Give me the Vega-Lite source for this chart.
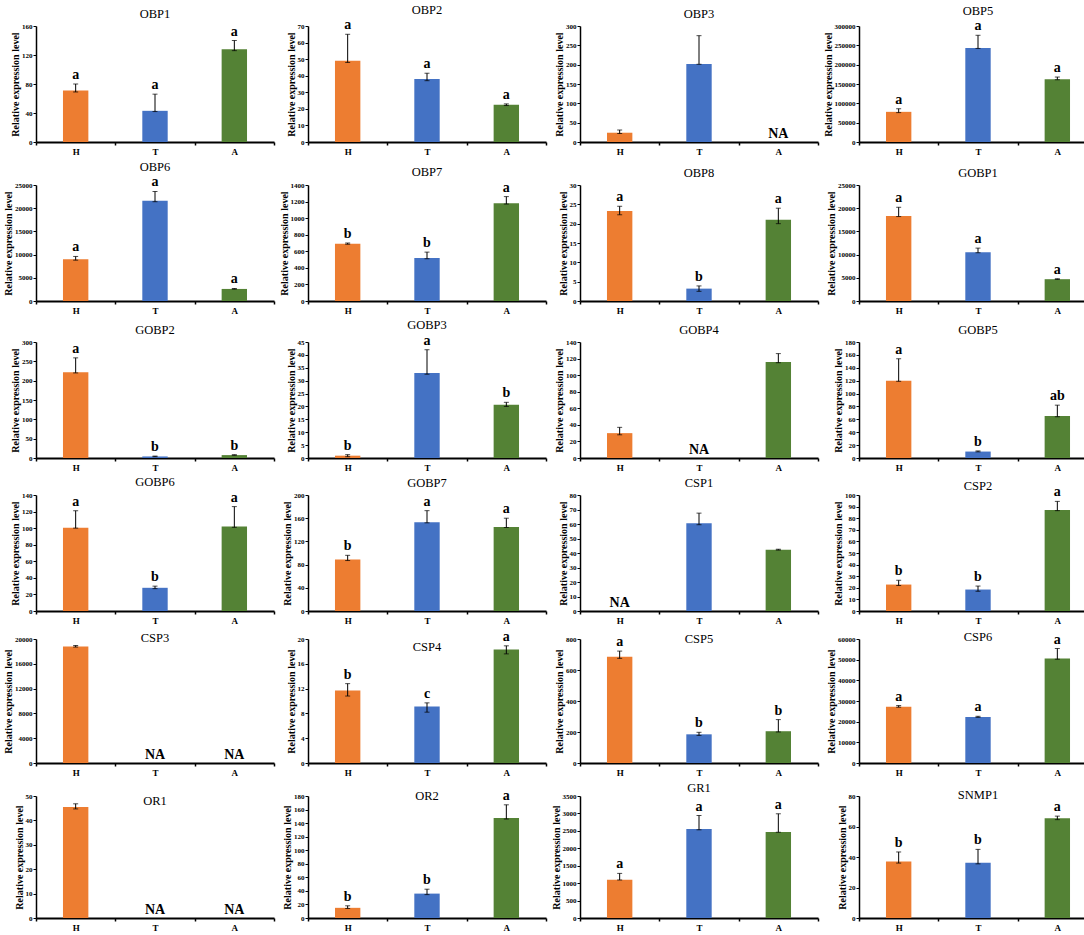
{
  "$schema": "https://vega.github.io/schema/vega-lite/v6.json",
  "description": "Relative expression levels of olfactory genes in H, T and A tissues",
  "background": "white",
  "padding": {"left": 3, "top": 3, "right": 3, "bottom": 2},
  "datasets": {
    "expr": [
      {"gene": "OBP1", "group": "H", "mean": 71, "lo": 69, "hi": 80, "sig": "a"},
      {"gene": "OBP1", "group": "T", "mean": 43, "lo": 42, "hi": 66, "sig": "a"},
      {"gene": "OBP1", "group": "A", "mean": 128, "lo": 126, "hi": 140, "sig": "a"},
      {"gene": "OBP2", "group": "H", "mean": 49, "lo": 48, "hi": 65, "sig": "a"},
      {"gene": "OBP2", "group": "T", "mean": 38, "lo": 37, "hi": 41.5, "sig": "a"},
      {"gene": "OBP2", "group": "A", "mean": 22.5, "lo": 22, "hi": 23, "sig": "a"},
      {"gene": "OBP3", "group": "H", "mean": 24, "lo": 22, "hi": 31, "sig": null},
      {"gene": "OBP3", "group": "T", "mean": 202, "lo": 201, "hi": 275, "sig": null},
      {"gene": "OBP3", "group": "A", "mean": null, "lo": null, "hi": null, "sig": null},
      {"gene": "OBP5", "group": "H", "mean": 78000, "lo": 76000, "hi": 86000, "sig": "a"},
      {"gene": "OBP5", "group": "T", "mean": 243000, "lo": 242000, "hi": 276000, "sig": "a"},
      {"gene": "OBP5", "group": "A", "mean": 162000, "lo": 161000, "hi": 168000, "sig": "a"},
      {"gene": "OBP6", "group": "H", "mean": 9000, "lo": 8800, "hi": 9600, "sig": "a"},
      {"gene": "OBP6", "group": "T", "mean": 21600, "lo": 21400, "hi": 23600, "sig": "a"},
      {"gene": "OBP6", "group": "A", "mean": 2600, "lo": 2550, "hi": 2700, "sig": "a"},
      {"gene": "OBP7", "group": "H", "mean": 690, "lo": 685, "hi": 700, "sig": "b"},
      {"gene": "OBP7", "group": "T", "mean": 520, "lo": 510, "hi": 590, "sig": "b"},
      {"gene": "OBP7", "group": "A", "mean": 1180, "lo": 1170, "hi": 1260, "sig": "a"},
      {"gene": "OBP8", "group": "H", "mean": 23.3, "lo": 22.3, "hi": 24.5, "sig": "a"},
      {"gene": "OBP8", "group": "T", "mean": 3.2, "lo": 2.5, "hi": 3.9, "sig": "b"},
      {"gene": "OBP8", "group": "A", "mean": 21, "lo": 20, "hi": 24, "sig": "a"},
      {"gene": "GOBP1", "group": "H", "mean": 18300, "lo": 18200, "hi": 20200, "sig": "a"},
      {"gene": "GOBP1", "group": "T", "mean": 10500, "lo": 10400, "hi": 11400, "sig": "a"},
      {"gene": "GOBP1", "group": "A", "mean": 4700, "lo": 4650, "hi": 4800, "sig": "a"},
      {"gene": "GOBP2", "group": "H", "mean": 222, "lo": 220, "hi": 259, "sig": "a"},
      {"gene": "GOBP2", "group": "T", "mean": 4, "lo": 3.5, "hi": 5, "sig": "b"},
      {"gene": "GOBP2", "group": "A", "mean": 7.5, "lo": 7, "hi": 8.5, "sig": "b"},
      {"gene": "GOBP3", "group": "H", "mean": 0.9, "lo": 0.5, "hi": 1.3, "sig": "b"},
      {"gene": "GOBP3", "group": "T", "mean": 33, "lo": 32.5, "hi": 42, "sig": "a"},
      {"gene": "GOBP3", "group": "A", "mean": 20.7, "lo": 20, "hi": 21.6, "sig": "b"},
      {"gene": "GOBP4", "group": "H", "mean": 30, "lo": 28, "hi": 37, "sig": null},
      {"gene": "GOBP4", "group": "T", "mean": null, "lo": null, "hi": null, "sig": null},
      {"gene": "GOBP4", "group": "A", "mean": 116, "lo": 115, "hi": 126, "sig": null},
      {"gene": "GOBP5", "group": "H", "mean": 120, "lo": 119, "hi": 154, "sig": "a"},
      {"gene": "GOBP5", "group": "T", "mean": 10, "lo": 9.5, "hi": 11, "sig": "b"},
      {"gene": "GOBP5", "group": "A", "mean": 65, "lo": 64, "hi": 82, "sig": "ab"},
      {"gene": "GOBP6", "group": "H", "mean": 100.5, "lo": 100, "hi": 121, "sig": "a"},
      {"gene": "GOBP6", "group": "T", "mean": 28, "lo": 27, "hi": 30, "sig": "b"},
      {"gene": "GOBP6", "group": "A", "mean": 102, "lo": 101, "hi": 126, "sig": "a"},
      {"gene": "GOBP7", "group": "H", "mean": 89, "lo": 87, "hi": 96, "sig": "b"},
      {"gene": "GOBP7", "group": "T", "mean": 153, "lo": 152, "hi": 173, "sig": "a"},
      {"gene": "GOBP7", "group": "A", "mean": 145, "lo": 144, "hi": 160, "sig": "a"},
      {"gene": "CSP1", "group": "H", "mean": null, "lo": null, "hi": null, "sig": null},
      {"gene": "CSP1", "group": "T", "mean": 60.5, "lo": 59.5, "hi": 67.5, "sig": null},
      {"gene": "CSP1", "group": "A", "mean": 42.3, "lo": 42, "hi": 42.6, "sig": null},
      {"gene": "CSP2", "group": "H", "mean": 22.8, "lo": 22, "hi": 26.5, "sig": "b"},
      {"gene": "CSP2", "group": "T", "mean": 18.5, "lo": 17, "hi": 21.5, "sig": "b"},
      {"gene": "CSP2", "group": "A", "mean": 87, "lo": 86.5, "hi": 94.5, "sig": "a"},
      {"gene": "CSP3", "group": "H", "mean": 18800, "lo": 18700, "hi": 18950, "sig": null},
      {"gene": "CSP3", "group": "T", "mean": null, "lo": null, "hi": null, "sig": null},
      {"gene": "CSP3", "group": "A", "mean": null, "lo": null, "hi": null, "sig": null},
      {"gene": "CSP4", "group": "H", "mean": 11.7, "lo": 10.8, "hi": 12.8, "sig": "b"},
      {"gene": "CSP4", "group": "T", "mean": 9.1, "lo": 8.2, "hi": 9.7, "sig": "c"},
      {"gene": "CSP4", "group": "A", "mean": 18.3, "lo": 17.6, "hi": 18.9, "sig": "a"},
      {"gene": "CSP5", "group": "H", "mean": 685, "lo": 675, "hi": 722, "sig": "a"},
      {"gene": "CSP5", "group": "T", "mean": 185, "lo": 178, "hi": 198, "sig": "b"},
      {"gene": "CSP5", "group": "A", "mean": 205, "lo": 200, "hi": 280, "sig": "b"},
      {"gene": "CSP6", "group": "H", "mean": 27200, "lo": 27000, "hi": 27800, "sig": "a"},
      {"gene": "CSP6", "group": "T", "mean": 22300, "lo": 22100, "hi": 22600, "sig": "a"},
      {"gene": "CSP6", "group": "A", "mean": 50600, "lo": 50200, "hi": 55400, "sig": "a"},
      {"gene": "OR1", "group": "H", "mean": 45.5, "lo": 44.7, "hi": 46.8, "sig": null},
      {"gene": "OR1", "group": "T", "mean": null, "lo": null, "hi": null, "sig": null},
      {"gene": "OR1", "group": "A", "mean": null, "lo": null, "hi": null, "sig": null},
      {"gene": "OR2", "group": "H", "mean": 15, "lo": 14, "hi": 18, "sig": "b"},
      {"gene": "OR2", "group": "T", "mean": 36, "lo": 34.5, "hi": 42.5, "sig": "b"},
      {"gene": "OR2", "group": "A", "mean": 147.5, "lo": 146, "hi": 167, "sig": "a"},
      {"gene": "GR1", "group": "H", "mean": 1100, "lo": 1090, "hi": 1280, "sig": "a"},
      {"gene": "GR1", "group": "T", "mean": 2550, "lo": 2530, "hi": 2940, "sig": "a"},
      {"gene": "GR1", "group": "A", "mean": 2470, "lo": 2460, "hi": 2990, "sig": "a"},
      {"gene": "SNMP1", "group": "H", "mean": 37, "lo": 36, "hi": 43.3, "sig": "b"},
      {"gene": "SNMP1", "group": "T", "mean": 36.3, "lo": 35.5, "hi": 45, "sig": "b"},
      {"gene": "SNMP1", "group": "A", "mean": 65.4, "lo": 64.5, "hi": 66.8, "sig": "a"}
    ]
  },
  "data": {"name": "expr"},
  "columns": 4,
  "spacing": {"row": 4, "column": 4},
  "concat": [
    {"title": {"text": "OBP1"}, "transform": [{"filter": "datum.gene === 'OBP1'"}],
     "encoding": {"x": {"field": "group", "type": "nominal", "sort": ["H", "T", "A"], "title": null, "scale": {"paddingInner": 0, "paddingOuter": 0}}},
     "layer": [
      {"mark": {"type": "bar", "width": {"band": 0.32}}, "encoding": {"y": {"field": "mean", "type": "quantitative", "title": "Relative expression level", "scale": {"domain": [0, 160], "nice": false}, "axis": {"values": [0, 40, 80, 120, 160], "tickCount": 20, "format": "d"}}, "color": {"field": "group", "legend": null}}},
      {"transform": [{"filter": "datum.lo !== null"}], "mark": {"type": "errorbar", "ticks": true, "color": "black", "size": 5, "thickness": 1}, "encoding": {"y": {"field": "lo", "type": "quantitative", "title": "Relative expression level"}, "y2": {"field": "hi"}}},
      {"transform": [{"filter": "datum.sig !== null"}], "mark": "text", "encoding": {"y": {"field": "hi", "type": "quantitative", "title": "Relative expression level"}, "text": {"field": "sig"}}},
      {"transform": [{"filter": "datum.mean === null"}], "mark": {"type": "text", "style": "na"}, "encoding": {"y": {"datum": 0, "type": "quantitative", "title": "Relative expression level"}, "text": {"value": "NA"}}}
     ]},
    {"title": {"text": "OBP2"}, "transform": [{"filter": "datum.gene === 'OBP2'"}],
     "encoding": {"x": {"field": "group", "type": "nominal", "sort": ["H", "T", "A"], "title": null, "scale": {"paddingInner": 0, "paddingOuter": 0}}},
     "layer": [
      {"mark": {"type": "bar", "width": {"band": 0.32}}, "encoding": {"y": {"field": "mean", "type": "quantitative", "title": "Relative expression level", "scale": {"domain": [0, 70], "nice": false}, "axis": {"values": [0, 10, 20, 30, 40, 50, 60, 70], "tickCount": 20, "format": "d"}}, "color": {"field": "group", "legend": null}}},
      {"transform": [{"filter": "datum.lo !== null"}], "mark": {"type": "errorbar", "ticks": true, "color": "black", "size": 5, "thickness": 1}, "encoding": {"y": {"field": "lo", "type": "quantitative", "title": "Relative expression level"}, "y2": {"field": "hi"}}},
      {"transform": [{"filter": "datum.sig !== null"}], "mark": "text", "encoding": {"y": {"field": "hi", "type": "quantitative", "title": "Relative expression level"}, "text": {"field": "sig"}}},
      {"transform": [{"filter": "datum.mean === null"}], "mark": {"type": "text", "style": "na"}, "encoding": {"y": {"datum": 0, "type": "quantitative", "title": "Relative expression level"}, "text": {"value": "NA"}}}
     ]},
    {"title": {"text": "OBP3"}, "transform": [{"filter": "datum.gene === 'OBP3'"}],
     "encoding": {"x": {"field": "group", "type": "nominal", "sort": ["H", "T", "A"], "title": null, "scale": {"paddingInner": 0, "paddingOuter": 0}}},
     "layer": [
      {"mark": {"type": "bar", "width": {"band": 0.32}}, "encoding": {"y": {"field": "mean", "type": "quantitative", "title": "Relative expression level", "scale": {"domain": [0, 300], "nice": false}, "axis": {"values": [0, 50, 100, 150, 200, 250, 300], "tickCount": 20, "format": "d"}}, "color": {"field": "group", "legend": null}}},
      {"transform": [{"filter": "datum.lo !== null"}], "mark": {"type": "errorbar", "ticks": true, "color": "black", "size": 5, "thickness": 1}, "encoding": {"y": {"field": "lo", "type": "quantitative", "title": "Relative expression level"}, "y2": {"field": "hi"}}},
      {"transform": [{"filter": "datum.sig !== null"}], "mark": "text", "encoding": {"y": {"field": "hi", "type": "quantitative", "title": "Relative expression level"}, "text": {"field": "sig"}}},
      {"transform": [{"filter": "datum.mean === null"}], "mark": {"type": "text", "style": "na"}, "encoding": {"y": {"datum": 0, "type": "quantitative", "title": "Relative expression level"}, "text": {"value": "NA"}}}
     ]},
    {"title": {"text": "OBP5"}, "transform": [{"filter": "datum.gene === 'OBP5'"}],
     "encoding": {"x": {"field": "group", "type": "nominal", "sort": ["H", "T", "A"], "title": null, "scale": {"paddingInner": 0, "paddingOuter": 0}}},
     "layer": [
      {"mark": {"type": "bar", "width": {"band": 0.32}}, "encoding": {"y": {"field": "mean", "type": "quantitative", "title": "Relative expression level", "scale": {"domain": [0, 300000], "nice": false}, "axis": {"values": [0, 50000, 100000, 150000, 200000, 250000, 300000], "tickCount": 20, "format": "d"}}, "color": {"field": "group", "legend": null}}},
      {"transform": [{"filter": "datum.lo !== null"}], "mark": {"type": "errorbar", "ticks": true, "color": "black", "size": 5, "thickness": 1}, "encoding": {"y": {"field": "lo", "type": "quantitative", "title": "Relative expression level"}, "y2": {"field": "hi"}}},
      {"transform": [{"filter": "datum.sig !== null"}], "mark": "text", "encoding": {"y": {"field": "hi", "type": "quantitative", "title": "Relative expression level"}, "text": {"field": "sig"}}},
      {"transform": [{"filter": "datum.mean === null"}], "mark": {"type": "text", "style": "na"}, "encoding": {"y": {"datum": 0, "type": "quantitative", "title": "Relative expression level"}, "text": {"value": "NA"}}}
     ]},
    {"title": {"text": "OBP6"}, "transform": [{"filter": "datum.gene === 'OBP6'"}],
     "encoding": {"x": {"field": "group", "type": "nominal", "sort": ["H", "T", "A"], "title": null, "scale": {"paddingInner": 0, "paddingOuter": 0}}},
     "layer": [
      {"mark": {"type": "bar", "width": {"band": 0.32}}, "encoding": {"y": {"field": "mean", "type": "quantitative", "title": "Relative expression level", "scale": {"domain": [0, 25000], "nice": false}, "axis": {"values": [0, 5000, 10000, 15000, 20000, 25000], "tickCount": 20, "format": "d"}}, "color": {"field": "group", "legend": null}}},
      {"transform": [{"filter": "datum.lo !== null"}], "mark": {"type": "errorbar", "ticks": true, "color": "black", "size": 5, "thickness": 1}, "encoding": {"y": {"field": "lo", "type": "quantitative", "title": "Relative expression level"}, "y2": {"field": "hi"}}},
      {"transform": [{"filter": "datum.sig !== null"}], "mark": "text", "encoding": {"y": {"field": "hi", "type": "quantitative", "title": "Relative expression level"}, "text": {"field": "sig"}}},
      {"transform": [{"filter": "datum.mean === null"}], "mark": {"type": "text", "style": "na"}, "encoding": {"y": {"datum": 0, "type": "quantitative", "title": "Relative expression level"}, "text": {"value": "NA"}}}
     ]},
    {"title": {"text": "OBP7"}, "transform": [{"filter": "datum.gene === 'OBP7'"}],
     "encoding": {"x": {"field": "group", "type": "nominal", "sort": ["H", "T", "A"], "title": null, "scale": {"paddingInner": 0, "paddingOuter": 0}}},
     "layer": [
      {"mark": {"type": "bar", "width": {"band": 0.32}}, "encoding": {"y": {"field": "mean", "type": "quantitative", "title": "Relative expression level", "scale": {"domain": [0, 1400], "nice": false}, "axis": {"values": [0, 200, 400, 600, 800, 1000, 1200, 1400], "tickCount": 20, "format": "d"}}, "color": {"field": "group", "legend": null}}},
      {"transform": [{"filter": "datum.lo !== null"}], "mark": {"type": "errorbar", "ticks": true, "color": "black", "size": 5, "thickness": 1}, "encoding": {"y": {"field": "lo", "type": "quantitative", "title": "Relative expression level"}, "y2": {"field": "hi"}}},
      {"transform": [{"filter": "datum.sig !== null"}], "mark": "text", "encoding": {"y": {"field": "hi", "type": "quantitative", "title": "Relative expression level"}, "text": {"field": "sig"}}},
      {"transform": [{"filter": "datum.mean === null"}], "mark": {"type": "text", "style": "na"}, "encoding": {"y": {"datum": 0, "type": "quantitative", "title": "Relative expression level"}, "text": {"value": "NA"}}}
     ]},
    {"title": {"text": "OBP8"}, "transform": [{"filter": "datum.gene === 'OBP8'"}],
     "encoding": {"x": {"field": "group", "type": "nominal", "sort": ["H", "T", "A"], "title": null, "scale": {"paddingInner": 0, "paddingOuter": 0}}},
     "layer": [
      {"mark": {"type": "bar", "width": {"band": 0.32}}, "encoding": {"y": {"field": "mean", "type": "quantitative", "title": "Relative expression level", "scale": {"domain": [0, 30], "nice": false}, "axis": {"values": [0, 5, 10, 15, 20, 25, 30], "tickCount": 20, "format": "d"}}, "color": {"field": "group", "legend": null}}},
      {"transform": [{"filter": "datum.lo !== null"}], "mark": {"type": "errorbar", "ticks": true, "color": "black", "size": 5, "thickness": 1}, "encoding": {"y": {"field": "lo", "type": "quantitative", "title": "Relative expression level"}, "y2": {"field": "hi"}}},
      {"transform": [{"filter": "datum.sig !== null"}], "mark": "text", "encoding": {"y": {"field": "hi", "type": "quantitative", "title": "Relative expression level"}, "text": {"field": "sig"}}},
      {"transform": [{"filter": "datum.mean === null"}], "mark": {"type": "text", "style": "na"}, "encoding": {"y": {"datum": 0, "type": "quantitative", "title": "Relative expression level"}, "text": {"value": "NA"}}}
     ]},
    {"title": {"text": "GOBP1"}, "transform": [{"filter": "datum.gene === 'GOBP1'"}],
     "encoding": {"x": {"field": "group", "type": "nominal", "sort": ["H", "T", "A"], "title": null, "scale": {"paddingInner": 0, "paddingOuter": 0}}},
     "layer": [
      {"mark": {"type": "bar", "width": {"band": 0.32}}, "encoding": {"y": {"field": "mean", "type": "quantitative", "title": "Relative expression level", "scale": {"domain": [0, 25000], "nice": false}, "axis": {"values": [0, 5000, 10000, 15000, 20000, 25000], "tickCount": 20, "format": "d"}}, "color": {"field": "group", "legend": null}}},
      {"transform": [{"filter": "datum.lo !== null"}], "mark": {"type": "errorbar", "ticks": true, "color": "black", "size": 5, "thickness": 1}, "encoding": {"y": {"field": "lo", "type": "quantitative", "title": "Relative expression level"}, "y2": {"field": "hi"}}},
      {"transform": [{"filter": "datum.sig !== null"}], "mark": "text", "encoding": {"y": {"field": "hi", "type": "quantitative", "title": "Relative expression level"}, "text": {"field": "sig"}}},
      {"transform": [{"filter": "datum.mean === null"}], "mark": {"type": "text", "style": "na"}, "encoding": {"y": {"datum": 0, "type": "quantitative", "title": "Relative expression level"}, "text": {"value": "NA"}}}
     ]},
    {"title": {"text": "GOBP2"}, "transform": [{"filter": "datum.gene === 'GOBP2'"}],
     "encoding": {"x": {"field": "group", "type": "nominal", "sort": ["H", "T", "A"], "title": null, "scale": {"paddingInner": 0, "paddingOuter": 0}}},
     "layer": [
      {"mark": {"type": "bar", "width": {"band": 0.32}}, "encoding": {"y": {"field": "mean", "type": "quantitative", "title": "Relative expression level", "scale": {"domain": [0, 300], "nice": false}, "axis": {"values": [0, 50, 100, 150, 200, 250, 300], "tickCount": 20, "format": "d"}}, "color": {"field": "group", "legend": null}}},
      {"transform": [{"filter": "datum.lo !== null"}], "mark": {"type": "errorbar", "ticks": true, "color": "black", "size": 5, "thickness": 1}, "encoding": {"y": {"field": "lo", "type": "quantitative", "title": "Relative expression level"}, "y2": {"field": "hi"}}},
      {"transform": [{"filter": "datum.sig !== null"}], "mark": "text", "encoding": {"y": {"field": "hi", "type": "quantitative", "title": "Relative expression level"}, "text": {"field": "sig"}}},
      {"transform": [{"filter": "datum.mean === null"}], "mark": {"type": "text", "style": "na"}, "encoding": {"y": {"datum": 0, "type": "quantitative", "title": "Relative expression level"}, "text": {"value": "NA"}}}
     ]},
    {"title": {"text": "GOBP3"}, "transform": [{"filter": "datum.gene === 'GOBP3'"}],
     "encoding": {"x": {"field": "group", "type": "nominal", "sort": ["H", "T", "A"], "title": null, "scale": {"paddingInner": 0, "paddingOuter": 0}}},
     "layer": [
      {"mark": {"type": "bar", "width": {"band": 0.32}}, "encoding": {"y": {"field": "mean", "type": "quantitative", "title": "Relative expression level", "scale": {"domain": [0, 45], "nice": false}, "axis": {"values": [0, 5, 10, 15, 20, 25, 30, 35, 40, 45], "tickCount": 20, "format": "d"}}, "color": {"field": "group", "legend": null}}},
      {"transform": [{"filter": "datum.lo !== null"}], "mark": {"type": "errorbar", "ticks": true, "color": "black", "size": 5, "thickness": 1}, "encoding": {"y": {"field": "lo", "type": "quantitative", "title": "Relative expression level"}, "y2": {"field": "hi"}}},
      {"transform": [{"filter": "datum.sig !== null"}], "mark": "text", "encoding": {"y": {"field": "hi", "type": "quantitative", "title": "Relative expression level"}, "text": {"field": "sig"}}},
      {"transform": [{"filter": "datum.mean === null"}], "mark": {"type": "text", "style": "na"}, "encoding": {"y": {"datum": 0, "type": "quantitative", "title": "Relative expression level"}, "text": {"value": "NA"}}}
     ]},
    {"title": {"text": "GOBP4"}, "transform": [{"filter": "datum.gene === 'GOBP4'"}],
     "encoding": {"x": {"field": "group", "type": "nominal", "sort": ["H", "T", "A"], "title": null, "scale": {"paddingInner": 0, "paddingOuter": 0}}},
     "layer": [
      {"mark": {"type": "bar", "width": {"band": 0.32}}, "encoding": {"y": {"field": "mean", "type": "quantitative", "title": "Relative expression level", "scale": {"domain": [0, 140], "nice": false}, "axis": {"values": [0, 20, 40, 60, 80, 100, 120, 140], "tickCount": 20, "format": "d"}}, "color": {"field": "group", "legend": null}}},
      {"transform": [{"filter": "datum.lo !== null"}], "mark": {"type": "errorbar", "ticks": true, "color": "black", "size": 5, "thickness": 1}, "encoding": {"y": {"field": "lo", "type": "quantitative", "title": "Relative expression level"}, "y2": {"field": "hi"}}},
      {"transform": [{"filter": "datum.sig !== null"}], "mark": "text", "encoding": {"y": {"field": "hi", "type": "quantitative", "title": "Relative expression level"}, "text": {"field": "sig"}}},
      {"transform": [{"filter": "datum.mean === null"}], "mark": {"type": "text", "style": "na"}, "encoding": {"y": {"datum": 0, "type": "quantitative", "title": "Relative expression level"}, "text": {"value": "NA"}}}
     ]},
    {"title": {"text": "GOBP5"}, "transform": [{"filter": "datum.gene === 'GOBP5'"}],
     "encoding": {"x": {"field": "group", "type": "nominal", "sort": ["H", "T", "A"], "title": null, "scale": {"paddingInner": 0, "paddingOuter": 0}}},
     "layer": [
      {"mark": {"type": "bar", "width": {"band": 0.32}}, "encoding": {"y": {"field": "mean", "type": "quantitative", "title": "Relative expression level", "scale": {"domain": [0, 180], "nice": false}, "axis": {"values": [0, 20, 40, 60, 80, 100, 120, 140, 160, 180], "tickCount": 20, "format": "d"}}, "color": {"field": "group", "legend": null}}},
      {"transform": [{"filter": "datum.lo !== null"}], "mark": {"type": "errorbar", "ticks": true, "color": "black", "size": 5, "thickness": 1}, "encoding": {"y": {"field": "lo", "type": "quantitative", "title": "Relative expression level"}, "y2": {"field": "hi"}}},
      {"transform": [{"filter": "datum.sig !== null"}], "mark": "text", "encoding": {"y": {"field": "hi", "type": "quantitative", "title": "Relative expression level"}, "text": {"field": "sig"}}},
      {"transform": [{"filter": "datum.mean === null"}], "mark": {"type": "text", "style": "na"}, "encoding": {"y": {"datum": 0, "type": "quantitative", "title": "Relative expression level"}, "text": {"value": "NA"}}}
     ]},
    {"title": {"text": "GOBP6"}, "transform": [{"filter": "datum.gene === 'GOBP6'"}],
     "encoding": {"x": {"field": "group", "type": "nominal", "sort": ["H", "T", "A"], "title": null, "scale": {"paddingInner": 0, "paddingOuter": 0}}},
     "layer": [
      {"mark": {"type": "bar", "width": {"band": 0.32}}, "encoding": {"y": {"field": "mean", "type": "quantitative", "title": "Relative expression level", "scale": {"domain": [0, 140], "nice": false}, "axis": {"values": [0, 20, 40, 60, 80, 100, 120, 140], "tickCount": 20, "format": "d"}}, "color": {"field": "group", "legend": null}}},
      {"transform": [{"filter": "datum.lo !== null"}], "mark": {"type": "errorbar", "ticks": true, "color": "black", "size": 5, "thickness": 1}, "encoding": {"y": {"field": "lo", "type": "quantitative", "title": "Relative expression level"}, "y2": {"field": "hi"}}},
      {"transform": [{"filter": "datum.sig !== null"}], "mark": "text", "encoding": {"y": {"field": "hi", "type": "quantitative", "title": "Relative expression level"}, "text": {"field": "sig"}}},
      {"transform": [{"filter": "datum.mean === null"}], "mark": {"type": "text", "style": "na"}, "encoding": {"y": {"datum": 0, "type": "quantitative", "title": "Relative expression level"}, "text": {"value": "NA"}}}
     ]},
    {"title": {"text": "GOBP7"}, "transform": [{"filter": "datum.gene === 'GOBP7'"}],
     "encoding": {"x": {"field": "group", "type": "nominal", "sort": ["H", "T", "A"], "title": null, "scale": {"paddingInner": 0, "paddingOuter": 0}}},
     "layer": [
      {"mark": {"type": "bar", "width": {"band": 0.32}}, "encoding": {"y": {"field": "mean", "type": "quantitative", "title": "Relative expression level", "scale": {"domain": [0, 200], "nice": false}, "axis": {"values": [0, 40, 80, 120, 160, 200], "tickCount": 20, "format": "d"}}, "color": {"field": "group", "legend": null}}},
      {"transform": [{"filter": "datum.lo !== null"}], "mark": {"type": "errorbar", "ticks": true, "color": "black", "size": 5, "thickness": 1}, "encoding": {"y": {"field": "lo", "type": "quantitative", "title": "Relative expression level"}, "y2": {"field": "hi"}}},
      {"transform": [{"filter": "datum.sig !== null"}], "mark": "text", "encoding": {"y": {"field": "hi", "type": "quantitative", "title": "Relative expression level"}, "text": {"field": "sig"}}},
      {"transform": [{"filter": "datum.mean === null"}], "mark": {"type": "text", "style": "na"}, "encoding": {"y": {"datum": 0, "type": "quantitative", "title": "Relative expression level"}, "text": {"value": "NA"}}}
     ]},
    {"title": {"text": "CSP1"}, "transform": [{"filter": "datum.gene === 'CSP1'"}],
     "encoding": {"x": {"field": "group", "type": "nominal", "sort": ["H", "T", "A"], "title": null, "scale": {"paddingInner": 0, "paddingOuter": 0}}},
     "layer": [
      {"mark": {"type": "bar", "width": {"band": 0.32}}, "encoding": {"y": {"field": "mean", "type": "quantitative", "title": "Relative expression level", "scale": {"domain": [0, 80], "nice": false}, "axis": {"values": [0, 10, 20, 30, 40, 50, 60, 70, 80], "tickCount": 20, "format": "d"}}, "color": {"field": "group", "legend": null}}},
      {"transform": [{"filter": "datum.lo !== null"}], "mark": {"type": "errorbar", "ticks": true, "color": "black", "size": 5, "thickness": 1}, "encoding": {"y": {"field": "lo", "type": "quantitative", "title": "Relative expression level"}, "y2": {"field": "hi"}}},
      {"transform": [{"filter": "datum.sig !== null"}], "mark": "text", "encoding": {"y": {"field": "hi", "type": "quantitative", "title": "Relative expression level"}, "text": {"field": "sig"}}},
      {"transform": [{"filter": "datum.mean === null"}], "mark": {"type": "text", "style": "na"}, "encoding": {"y": {"datum": 0, "type": "quantitative", "title": "Relative expression level"}, "text": {"value": "NA"}}}
     ]},
    {"title": {"text": "CSP2", "offset": -7}, "transform": [{"filter": "datum.gene === 'CSP2'"}],
     "encoding": {"x": {"field": "group", "type": "nominal", "sort": ["H", "T", "A"], "title": null, "scale": {"paddingInner": 0, "paddingOuter": 0}}},
     "layer": [
      {"mark": {"type": "bar", "width": {"band": 0.32}}, "encoding": {"y": {"field": "mean", "type": "quantitative", "title": "Relative expression level", "scale": {"domain": [0, 100], "nice": false}, "axis": {"values": [0, 10, 20, 30, 40, 50, 60, 70, 80, 90, 100], "tickCount": 20, "format": "d"}}, "color": {"field": "group", "legend": null}}},
      {"transform": [{"filter": "datum.lo !== null"}], "mark": {"type": "errorbar", "ticks": true, "color": "black", "size": 5, "thickness": 1}, "encoding": {"y": {"field": "lo", "type": "quantitative", "title": "Relative expression level"}, "y2": {"field": "hi"}}},
      {"transform": [{"filter": "datum.sig !== null"}], "mark": "text", "encoding": {"y": {"field": "hi", "type": "quantitative", "title": "Relative expression level"}, "text": {"field": "sig"}}},
      {"transform": [{"filter": "datum.mean === null"}], "mark": {"type": "text", "style": "na"}, "encoding": {"y": {"datum": 0, "type": "quantitative", "title": "Relative expression level"}, "text": {"value": "NA"}}}
     ]},
    {"title": {"text": "CSP3", "offset": -9}, "height": 124, "transform": [{"filter": "datum.gene === 'CSP3'"}],
     "encoding": {"x": {"field": "group", "type": "nominal", "sort": ["H", "T", "A"], "title": null, "scale": {"paddingInner": 0, "paddingOuter": 0}}},
     "layer": [
      {"mark": {"type": "bar", "width": {"band": 0.32}}, "encoding": {"y": {"field": "mean", "type": "quantitative", "title": "Relative expression level", "scale": {"domain": [0, 20000], "nice": false}, "axis": {"values": [0, 4000, 8000, 12000, 16000, 20000], "tickCount": 20, "format": "d"}}, "color": {"field": "group", "legend": null}}},
      {"transform": [{"filter": "datum.lo !== null"}], "mark": {"type": "errorbar", "ticks": true, "color": "black", "size": 5, "thickness": 1}, "encoding": {"y": {"field": "lo", "type": "quantitative", "title": "Relative expression level"}, "y2": {"field": "hi"}}},
      {"transform": [{"filter": "datum.sig !== null"}], "mark": "text", "encoding": {"y": {"field": "hi", "type": "quantitative", "title": "Relative expression level"}, "text": {"field": "sig"}}},
      {"transform": [{"filter": "datum.mean === null"}], "mark": {"type": "text", "style": "na"}, "encoding": {"y": {"datum": 0, "type": "quantitative", "title": "Relative expression level"}, "text": {"value": "NA"}}}
     ]},
    {"title": {"text": "CSP4", "offset": -24}, "height": 124, "transform": [{"filter": "datum.gene === 'CSP4'"}],
     "encoding": {"x": {"field": "group", "type": "nominal", "sort": ["H", "T", "A"], "title": null, "scale": {"paddingInner": 0, "paddingOuter": 0}}},
     "layer": [
      {"mark": {"type": "bar", "width": {"band": 0.32}}, "encoding": {"y": {"field": "mean", "type": "quantitative", "title": "Relative expression level", "scale": {"domain": [0, 20], "nice": false}, "axis": {"values": [0, 4, 8, 12, 16, 20], "tickCount": 20, "format": "d"}}, "color": {"field": "group", "legend": null}}},
      {"transform": [{"filter": "datum.lo !== null"}], "mark": {"type": "errorbar", "ticks": true, "color": "black", "size": 5, "thickness": 1}, "encoding": {"y": {"field": "lo", "type": "quantitative", "title": "Relative expression level"}, "y2": {"field": "hi"}}},
      {"transform": [{"filter": "datum.sig !== null"}], "mark": "text", "encoding": {"y": {"field": "hi", "type": "quantitative", "title": "Relative expression level"}, "text": {"field": "sig"}}},
      {"transform": [{"filter": "datum.mean === null"}], "mark": {"type": "text", "style": "na"}, "encoding": {"y": {"datum": 0, "type": "quantitative", "title": "Relative expression level"}, "text": {"value": "NA"}}}
     ]},
    {"title": {"text": "CSP5", "offset": -10}, "height": 124, "transform": [{"filter": "datum.gene === 'CSP5'"}],
     "encoding": {"x": {"field": "group", "type": "nominal", "sort": ["H", "T", "A"], "title": null, "scale": {"paddingInner": 0, "paddingOuter": 0}}},
     "layer": [
      {"mark": {"type": "bar", "width": {"band": 0.32}}, "encoding": {"y": {"field": "mean", "type": "quantitative", "title": "Relative expression level", "scale": {"domain": [0, 800], "nice": false}, "axis": {"values": [0, 200, 400, 600, 800], "tickCount": 20, "format": "d"}}, "color": {"field": "group", "legend": null}}},
      {"transform": [{"filter": "datum.lo !== null"}], "mark": {"type": "errorbar", "ticks": true, "color": "black", "size": 5, "thickness": 1}, "encoding": {"y": {"field": "lo", "type": "quantitative", "title": "Relative expression level"}, "y2": {"field": "hi"}}},
      {"transform": [{"filter": "datum.sig !== null"}], "mark": "text", "encoding": {"y": {"field": "hi", "type": "quantitative", "title": "Relative expression level"}, "text": {"field": "sig"}}},
      {"transform": [{"filter": "datum.mean === null"}], "mark": {"type": "text", "style": "na"}, "encoding": {"y": {"datum": 0, "type": "quantitative", "title": "Relative expression level"}, "text": {"value": "NA"}}}
     ]},
    {"title": {"text": "CSP6", "offset": -11}, "height": 124, "transform": [{"filter": "datum.gene === 'CSP6'"}],
     "encoding": {"x": {"field": "group", "type": "nominal", "sort": ["H", "T", "A"], "title": null, "scale": {"paddingInner": 0, "paddingOuter": 0}}},
     "layer": [
      {"mark": {"type": "bar", "width": {"band": 0.32}}, "encoding": {"y": {"field": "mean", "type": "quantitative", "title": "Relative expression level", "scale": {"domain": [0, 60000], "nice": false}, "axis": {"values": [0, 10000, 20000, 30000, 40000, 50000, 60000], "tickCount": 20, "format": "d"}}, "color": {"field": "group", "legend": null}}},
      {"transform": [{"filter": "datum.lo !== null"}], "mark": {"type": "errorbar", "ticks": true, "color": "black", "size": 5, "thickness": 1}, "encoding": {"y": {"field": "lo", "type": "quantitative", "title": "Relative expression level"}, "y2": {"field": "hi"}}},
      {"transform": [{"filter": "datum.sig !== null"}], "mark": "text", "encoding": {"y": {"field": "hi", "type": "quantitative", "title": "Relative expression level"}, "text": {"field": "sig"}}},
      {"transform": [{"filter": "datum.mean === null"}], "mark": {"type": "text", "style": "na"}, "encoding": {"y": {"datum": 0, "type": "quantitative", "title": "Relative expression level"}, "text": {"value": "NA"}}}
     ]},
    {"title": {"text": "OR1", "offset": -15}, "height": 122, "transform": [{"filter": "datum.gene === 'OR1'"}],
     "encoding": {"x": {"field": "group", "type": "nominal", "sort": ["H", "T", "A"], "title": null, "scale": {"paddingInner": 0, "paddingOuter": 0}}},
     "layer": [
      {"mark": {"type": "bar", "width": {"band": 0.32}}, "encoding": {"y": {"field": "mean", "type": "quantitative", "title": "Relative expression level", "scale": {"domain": [0, 50], "nice": false}, "axis": {"values": [0, 10, 20, 30, 40, 50], "tickCount": 20, "format": "d"}}, "color": {"field": "group", "legend": null}}},
      {"transform": [{"filter": "datum.lo !== null"}], "mark": {"type": "errorbar", "ticks": true, "color": "black", "size": 5, "thickness": 1}, "encoding": {"y": {"field": "lo", "type": "quantitative", "title": "Relative expression level"}, "y2": {"field": "hi"}}},
      {"transform": [{"filter": "datum.sig !== null"}], "mark": "text", "encoding": {"y": {"field": "hi", "type": "quantitative", "title": "Relative expression level"}, "text": {"field": "sig"}}},
      {"transform": [{"filter": "datum.mean === null"}], "mark": {"type": "text", "style": "na"}, "encoding": {"y": {"datum": 0, "type": "quantitative", "title": "Relative expression level"}, "text": {"value": "NA"}}}
     ]},
    {"title": {"text": "OR2", "offset": -14}, "height": 122, "transform": [{"filter": "datum.gene === 'OR2'"}],
     "encoding": {"x": {"field": "group", "type": "nominal", "sort": ["H", "T", "A"], "title": null, "scale": {"paddingInner": 0, "paddingOuter": 0}}},
     "layer": [
      {"mark": {"type": "bar", "width": {"band": 0.32}}, "encoding": {"y": {"field": "mean", "type": "quantitative", "title": "Relative expression level", "scale": {"domain": [0, 180], "nice": false}, "axis": {"values": [0, 20, 40, 60, 80, 100, 120, 140, 160, 180], "tickCount": 20, "format": "d"}}, "color": {"field": "group", "legend": null}}},
      {"transform": [{"filter": "datum.lo !== null"}], "mark": {"type": "errorbar", "ticks": true, "color": "black", "size": 5, "thickness": 1}, "encoding": {"y": {"field": "lo", "type": "quantitative", "title": "Relative expression level"}, "y2": {"field": "hi"}}},
      {"transform": [{"filter": "datum.sig !== null"}], "mark": "text", "encoding": {"y": {"field": "hi", "type": "quantitative", "title": "Relative expression level"}, "text": {"field": "sig"}}},
      {"transform": [{"filter": "datum.mean === null"}], "mark": {"type": "text", "style": "na"}, "encoding": {"y": {"datum": 0, "type": "quantitative", "title": "Relative expression level"}, "text": {"value": "NA"}}}
     ]},
    {"title": {"text": "GR1", "offset": -2}, "height": 122, "transform": [{"filter": "datum.gene === 'GR1'"}],
     "encoding": {"x": {"field": "group", "type": "nominal", "sort": ["H", "T", "A"], "title": null, "scale": {"paddingInner": 0, "paddingOuter": 0}}},
     "layer": [
      {"mark": {"type": "bar", "width": {"band": 0.32}}, "encoding": {"y": {"field": "mean", "type": "quantitative", "title": "Relative expression level", "scale": {"domain": [0, 3500], "nice": false}, "axis": {"values": [0, 500, 1000, 1500, 2000, 2500, 3000, 3500], "tickCount": 20, "format": "d"}}, "color": {"field": "group", "legend": null}}},
      {"transform": [{"filter": "datum.lo !== null"}], "mark": {"type": "errorbar", "ticks": true, "color": "black", "size": 5, "thickness": 1}, "encoding": {"y": {"field": "lo", "type": "quantitative", "title": "Relative expression level"}, "y2": {"field": "hi"}}},
      {"transform": [{"filter": "datum.sig !== null"}], "mark": "text", "encoding": {"y": {"field": "hi", "type": "quantitative", "title": "Relative expression level"}, "text": {"field": "sig"}}},
      {"transform": [{"filter": "datum.mean === null"}], "mark": {"type": "text", "style": "na"}, "encoding": {"y": {"datum": 0, "type": "quantitative", "title": "Relative expression level"}, "text": {"value": "NA"}}}
     ]},
    {"title": {"text": "SNMP1", "offset": -9}, "height": 122, "transform": [{"filter": "datum.gene === 'SNMP1'"}],
     "encoding": {"x": {"field": "group", "type": "nominal", "sort": ["H", "T", "A"], "title": null, "scale": {"paddingInner": 0, "paddingOuter": 0}}},
     "layer": [
      {"mark": {"type": "bar", "width": {"band": 0.32}}, "encoding": {"y": {"field": "mean", "type": "quantitative", "title": "Relative expression level", "scale": {"domain": [0, 80], "nice": false}, "axis": {"values": [0, 20, 40, 60, 80], "tickCount": 20, "format": "d"}}, "color": {"field": "group", "legend": null}}},
      {"transform": [{"filter": "datum.lo !== null"}], "mark": {"type": "errorbar", "ticks": true, "color": "black", "size": 5, "thickness": 1}, "encoding": {"y": {"field": "lo", "type": "quantitative", "title": "Relative expression level"}, "y2": {"field": "hi"}}},
      {"transform": [{"filter": "datum.sig !== null"}], "mark": "text", "encoding": {"y": {"field": "hi", "type": "quantitative", "title": "Relative expression level"}, "text": {"field": "sig"}}},
      {"transform": [{"filter": "datum.mean === null"}], "mark": {"type": "text", "style": "na"}, "encoding": {"y": {"datum": 0, "type": "quantitative", "title": "Relative expression level"}, "text": {"value": "NA"}}}
     ]}
  ],
  "config": {
    "font": "Liberation Serif",
    "view": {"stroke": null, "discreteWidth": 238, "continuousHeight": 116},
    "range": {"category": ["#548235", "#ED7D31", "#4472C4"]},
    "axis": {"grid": false, "domainColor": "black", "tickColor": "black", "labelColor": "black", "titleColor": "black", "labelFont": "Liberation Serif", "titleFont": "Liberation Serif"},
    "axisY": {"domainWidth": 1.5, "tickSize": 3, "labelFontSize": 7, "labelFontWeight": "bold", "labelPadding": 1, "labelOverlap": false, "labelBound": false, "titleFontSize": 10, "titleFontWeight": "bold", "titlePadding": 1},
    "axisX": {"domainWidth": 2, "tickBand": "extent", "tickSize": 3, "tickWidth": 1.5, "labelAngle": 0, "labelFontSize": 9, "labelFontWeight": "bold", "labelPadding": 2},
    "title": {"font": "Liberation Serif", "fontSize": 12.5, "fontWeight": "normal", "color": "black", "offset": 2},
    "text": {"font": "Liberation Serif", "fontSize": 14, "fontWeight": "bold", "baseline": "bottom", "dy": -2, "color": "black"},
    "style": {"na": {"fontSize": 15, "dy": -1}},
    "concat": {"spacing": 4}
  }
}
